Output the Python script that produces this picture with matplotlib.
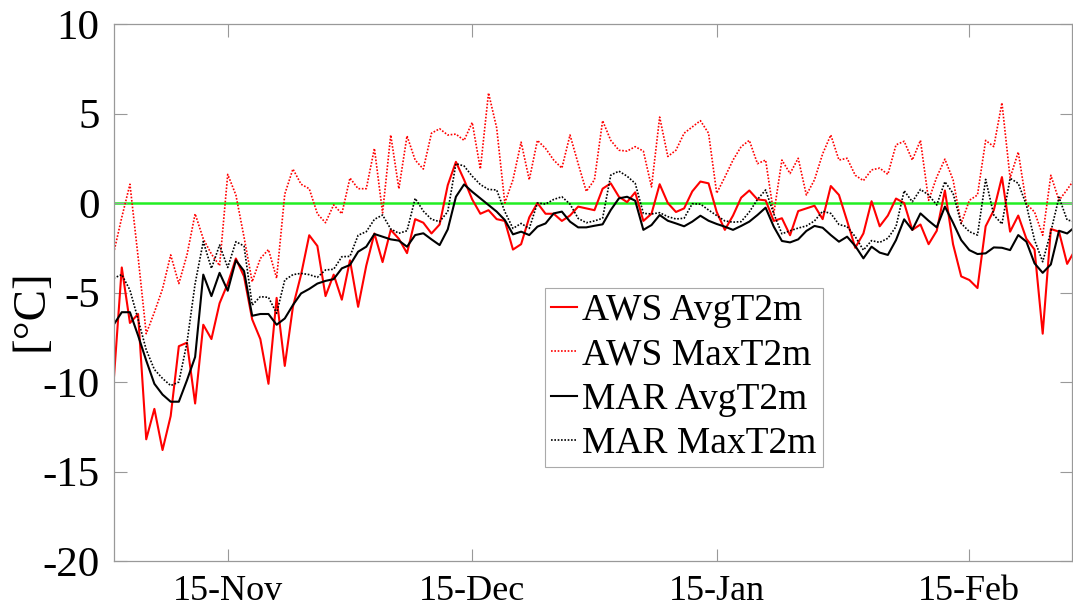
import numpy as np
import matplotlib
matplotlib.use("Agg")
import matplotlib.pyplot as plt

plt.rcParams['font.family'] = ['Liberation Serif', 'DejaVu Serif']

# daily values, 1 Nov -> end of Feb
aws_avg = [-10.0, -3.6, -6.7, -6.2, -13.2, -11.5, -13.8, -11.9, -8.0, -7.8,
           -11.2, -6.8, -7.6, -5.6, -4.5, -3.1, -4.1, -6.5, -7.6, -10.1,
           -5.3, -9.1, -5.8, -4.0, -1.8, -2.4, -5.2, -4.0, -5.4, -3.2,
           -5.8, -3.5, -1.7, -3.3, -1.5, -2.0, -2.8, -0.9, -1.1, -1.7,
           -1.2, 1.0, 2.3, 1.3, 0.2, -0.6, -0.4, -0.9, -1.0, -2.6,
           -2.3, -0.8, 0.0, -0.6, -0.6, -1.0, -0.7, -0.2, -0.3, -0.4,
           0.8, 1.1, 0.35, 0.05, 0.6, -1.0, -0.6, 1.05, 0.0, -0.5,
           -0.3, 0.65, 1.2, 1.1, -0.5, -1.5, -0.7, 0.3, 0.7, 0.2,
           0.15, -1.0, -0.85, -1.8, -0.45, -0.3, -0.15, -0.9, 0.95, 0.45,
           -1.0, -2.5, -1.7, 0.1, -1.3, -0.7, 0.25, 0.0, -1.5, -1.2,
           -2.3, -1.55, 0.7, -2.3, -4.1, -4.3, -4.75, -1.3, -0.4, 1.45,
           -1.6, -0.7, -2.0, -2.6, -7.3, -1.45, -1.6, -3.4, -2.6]

aws_max = [-2.8, -0.8, 1.05, -3.0, -7.3, -6.1, -4.8, -2.9, -4.5, -2.9,
           -0.6, -2.0, -2.85, -3.5, 1.6, 0.45, -1.9, -4.4, -3.1, -2.6,
           -4.2, 0.5, 1.9, 1.05, 0.8, -0.6, -1.1, -0.1, -0.6, 1.4,
           0.8, 0.8, 3.05, -0.55, 3.8, 0.8, 3.75, 2.4, 1.9, 3.9,
           4.15, 3.8, 3.85, 3.5, 4.5, 1.9, 6.15, 4.2, 0.0, 1.3,
           3.4, 1.3, 3.5, 3.05, 2.4, 1.95, 3.8, 2.2, 0.65, 1.3,
           4.6, 3.5, 2.95, 2.9, 3.15, 2.9, 0.9, 4.8, 2.6, 2.95,
           3.9, 4.25, 4.6, 3.9, 0.55, 1.45, 2.4, 3.15, 3.5, 2.2,
           2.4, -0.6, 2.4, 1.65, 2.5, 0.45, 1.3, 2.75, 3.8, 2.4,
           2.5, 1.55, 1.25, 1.85, 1.95, 1.6, 3.25, 3.45, 2.4, 3.5,
           0.15, 1.45, 2.45, 1.3, -1.15, 0.15, 0.45, 3.5, 3.15, 5.6,
           1.4, 2.85, -0.05, -0.5, -1.8, 1.55, 0.15, 0.75, 1.4]

mar_avg = [-6.8, -6.1, -6.1, -7.4, -8.8, -10.1, -10.7, -11.1, -11.1, -9.9,
           -8.6, -4.0, -5.2, -3.9, -4.9, -3.2, -3.8, -6.3, -6.2, -6.2,
           -6.8, -6.45, -5.7, -5.05, -4.8, -4.5, -4.35, -4.25, -3.65, -3.46,
           -2.72, -2.44, -1.73, -1.88, -2.03, -2.1, -2.44, -1.79, -1.69, -2.03,
           -2.35, -1.47, 0.35, 1.04, 0.63, 0.26, -0.11, -0.48, -0.95, -1.75,
           -1.6, -1.79, -1.32, -1.14, -0.58, -0.48, -1.04, -1.36, -1.36, -1.27,
           -1.19, -0.39, 0.26, 0.35, 0.13, -1.5, -1.23, -0.67, -0.99, -1.14,
           -1.3, -1.04, -0.71, -0.99, -1.17, -1.32, -1.5, -1.28, -1.04, -0.67,
           -0.26, -1.32, -2.12, -2.2, -2.03, -1.56, -1.28, -1.38, -1.79, -2.16,
           -1.88, -2.4, -3.09, -2.44, -2.77, -2.9, -2.07, -0.91, -1.5, -0.58,
           -0.99, -1.36, -0.2, -1.1, -2.07, -2.63, -2.85, -2.81, -2.48, -2.5,
           -2.63, -1.79, -2.16, -3.37, -3.9, -3.43, -1.55, -1.7, -1.32]

mar_max = [-4.2, -4.0, -4.86, -6.5, -8.2, -9.3, -9.8, -10.2, -10.0, -7.8,
           -4.5, -2.15, -3.65, -2.35, -3.6, -2.16, -2.4, -5.7, -5.23, -5.27,
           -6.16, -4.3, -4.0, -3.93, -4.0, -4.15, -3.74, -3.7, -3.0, -2.98,
           -1.8, -1.6, -0.91, -0.67, -1.45, -1.69, -1.55, 0.26, -0.45, -0.91,
           -1.04, -0.48, 2.2, 2.07, 1.5, 1.03, 0.76, 0.73, -0.48, -1.42,
           -1.14, -1.42, 0.0, -0.06, 0.2, 0.35, -0.06, -0.86, -1.1, -1.0,
           -0.85, 1.56, 1.78, 1.5, 1.1, -0.58, -0.61, -0.54, -0.76, -0.89,
           -0.85, -0.04, -0.06, -0.39, -0.7, -1.0, -1.07, -1.04, -0.5, 0.2,
           0.73, -0.6, -1.72, -1.55, -1.4, -1.28, -1.0, -0.46, -0.58, -1.2,
           -1.32, -1.88, -2.63, -2.1, -2.2, -1.97, -1.32, 0.69, 0.07, 0.76,
           0.45, -0.11, 1.19, 0.54, -1.14, -1.6, -1.79, 1.32, -0.67, -1.17,
           1.38, 1.1, -0.11, -2.07, -3.28, -1.6, 0.32, -0.95, -1.04]

days = np.arange(1, len(aws_avg) + 1)
tick_pos = [15, 45, 75, 106]
tick_lab = ['15-Nov', '15-Dec', '15-Jan', '15-Feb']

fig = plt.figure(figsize=(10.73, 6.13), dpi=100)
ax = fig.add_axes([0.1059, 0.0848, 0.8932, 0.876])

ax.axhline(0, color='#22ee22', lw=1.8, zorder=1)
ax.plot(days, aws_avg, color='red', lw=1.5, label='AWS AvgT2m')
ax.plot(days, aws_max, color='red', lw=1.2, ls=(0, (1, 1)), label='AWS MaxT2m')
ax.plot(days, mar_avg, color='black', lw=1.5, label='MAR AvgT2m')
ax.plot(days, mar_max, color='black', lw=1.2, ls=(0, (1, 1)), label='MAR MaxT2m')

ax.set_xlim(1, 118.6)
ax.set_ylim(-20, 10)
ax.set_xticks(tick_pos)
ax.set_xticklabels(tick_lab)
ax.set_yticks([-20, -15, -10, -5, 0, 5, 10])
ax.set_yticklabels(['-20', '-15', '-10', '-5', '0', '5', '10'])
ax.tick_params(direction='in', length=9, width=0.8, color='#999999',
               top=True, right=True)
ax.tick_params(axis='x', labelsize=26, pad=10)
ax.tick_params(axis='y', labelsize=31, pad=10)
for s in ax.spines.values():
    s.set_color('#999999')
    s.set_linewidth(0.9)
ax.set_ylabel('[°C]', fontsize=34)
ax.yaxis.set_label_coords(-0.064, 0.467)

leg = ax.legend(loc='upper left', bbox_to_anchor=(0.45, 0.508), fontsize=27,
                handlelength=0.7, handletextpad=0.15, borderpad=0.15,
                labelspacing=0.26, borderaxespad=0, fancybox=False,
                framealpha=1, edgecolor='#aaaaaa')
leg.get_frame().set_linewidth(0.8)

fig.savefig('out.png', dpi=100)
